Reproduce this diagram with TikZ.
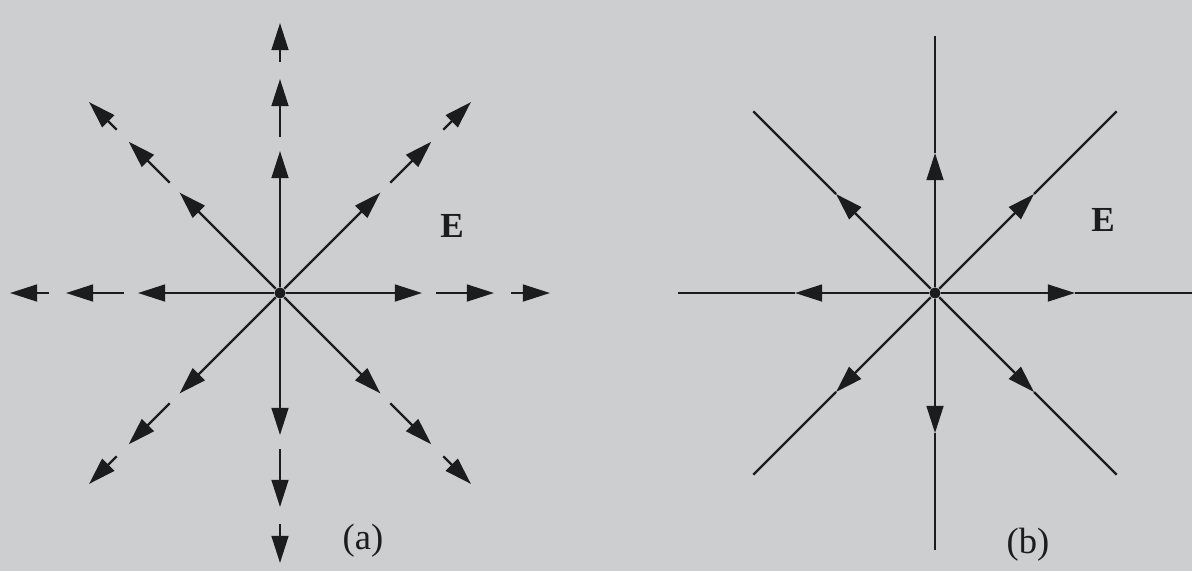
\documentclass[tikz,border=0pt]{standalone}
\usepackage{fontspec}
\setmainfont{Liberation Serif}
\usepackage{tikz}
\usetikzlibrary{arrows.meta, positioning}

\definecolor{paper}{RGB}{204,206,207}
\definecolor{ink}{RGB}{28,28,30}

\begin{document}
\begin{tikzpicture}[x=0.0125cm, y=0.0125cm]

% ---- Styles -----------------------------------------------------------------
\tikzset{
  fieldray/.style={draw=ink, line width=0.85pt},
  headtip/.style={-{Triangle[length=0.34cm, width=0.21cm]}},
  chargedot/.style={circle, fill=ink, inner sep=0pt, minimum size=0.14cm},
  fieldlbl/.style={font=\fontsize{12.5}{14}\selectfont\bfseries, text=ink},
  partlbl/.style={font=\fontsize{13}{15}\selectfont, text=ink},
}

\def\RA{142}   % (a) first tip
\def\SB{156}   % (a) second segment start
\def\RB{214}   % (a) second tip
\def\SC{231}   % (a) third segment start
\def\RC{270}   % (a) third tip
\def\RT{140}   % (b) tip on the line
\def\RE{257}   % (b) line end

% ---- Background / bounding box ---------------------------------------------
\fill[paper] (0,0) rectangle (1192,571);
\useasboundingbox (0,0) rectangle (1192,571);

% ---- (a) arrows broken up along each ray ------------------------------------
\node[chargedot] (Ca) at (280,278) {};

\foreach \ang in {0,45,...,315} {
  \coordinate (a-\ang-1)  at ([shift={(\ang:\RA)}]Ca.center);
  \coordinate (a-\ang-2s) at ([shift={(\ang:\SB)}]Ca.center);
  \coordinate (a-\ang-2)  at ([shift={(\ang:\RB)}]Ca.center);
  \coordinate (a-\ang-3s) at ([shift={(\ang:\SC)}]Ca.center);
  \coordinate (a-\ang-3)  at ([shift={(\ang:\RC)}]Ca.center);
  \draw[fieldray, headtip] (Ca) -- (a-\ang-1);
  \draw[fieldray, headtip] (a-\ang-2s) -- (a-\ang-2);
  \draw[fieldray, headtip] (a-\ang-3s) -- (a-\ang-3);
}

\node[fieldlbl] (Ea) at (452,345) {E};
\node[partlbl] (La) at (363,30) {(a)};

% ---- (b) continuous field lines ---------------------------------------------
\node[chargedot] (Cb) at (935,278) {};

\foreach \ang in {0,45,...,315} {
  \coordinate (b-\ang-t) at ([shift={(\ang:\RT)}]Cb.center);
  \coordinate (b-\ang-e) at ([shift={(\ang:\RE)}]Cb.center);
  \draw[fieldray, headtip] (Cb) -- (b-\ang-t);
  \draw[fieldray] (b-\ang-t) -- (b-\ang-e);
}

\node[fieldlbl] (Eb) at (1103,351) {E};
\node[partlbl] (Lb) at (1028,26) {(b)};

\end{tikzpicture}
\end{document}
